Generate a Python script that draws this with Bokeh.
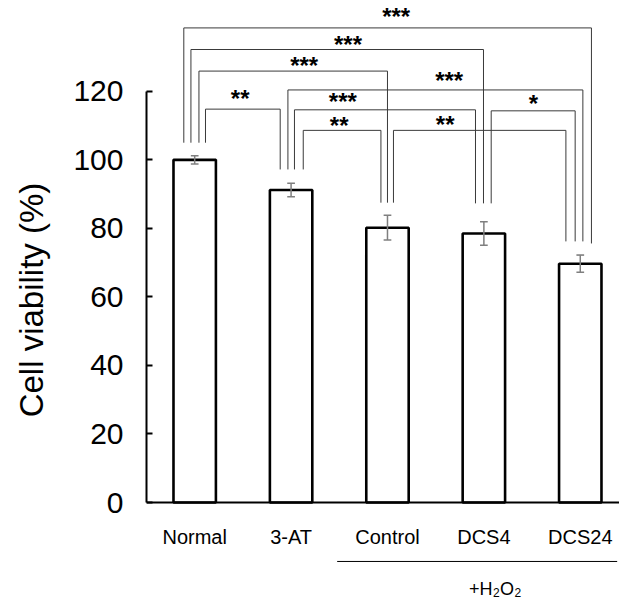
from bokeh.plotting import figure
from bokeh.models import Range1d, FixedTicker
from bokeh.core.properties import value
from bokeh.embed import file_html
from bokeh.resources import INLINE

# ---------------- data ----------------
categories = ["Normal", "3-AT", "Control", "DCS4", "DCS24"]
viability = [100.0, 91.2, 80.2, 78.5, 69.7]
error = [1.2, 2.0, 3.6, 3.4, 2.5]
y_ticks = [0, 20, 40, 60, 80, 100, 120]

# significance brackets (x in category units, y in % units)
bracket_labels = ["***", "***", "***", "**", "***", "***", "**", "**", "*"]
bracket_x_left = [0.387, 0.461, 0.544, 0.612, 1.467, 1.535, 1.626, 2.562, 3.576]
bracket_x_right = [4.616, 3.496, 2.500, 1.387, 4.527, 3.413, 2.432, 4.351, 4.447]
bracket_top = [138.5, 132.2, 125.9, 114.8, 120.4, 114.6, 108.6, 108.6, 114.3]
bracket_left_bottom = [105.0, 105.0, 105.0, 105.0, 97.2, 97.2, 97.2, 87.5, 87.3]
bracket_right_bottom = [75.6, 87.3, 87.5, 97.2, 76.2, 87.3, 87.5, 76.2, 76.2]
star_x = [2.59, 2.09, 1.636, 0.972, 3.14, 2.037, 1.999, 3.098, 4.014]
star_y = [141.7, 133.7, 127.6, 117.9, 123.1, 116.9, 110.1, 110.4, 116.4]

# treatment group (+H2O2) under Control, DCS4, DCS24
group_span = [1.978, 4.883]
group_line_y = -17.2
group_text_x = 3.345
group_text_y = -25.1
group_sub_y = -26.4

FONT = value("Liberation Sans")

xc = [i + 0.5 for i in range(len(categories))]

p = figure(width=619, height=599,
           x_range=Range1d(0, 4.907), y_range=Range1d(-28.3, 146.5),
           output_backend="svg", toolbar_location=None,
           min_border_left=146, min_border_right=0,
           min_border_top=0, min_border_bottom=0)
p.xgrid.visible = False
p.ygrid.visible = False
p.outline_line_color = None
p.background_fill_color = "white"
p.border_fill_color = "white"

# y axis
ya = p.yaxis[0]
ya.bounds = (0, 120)
ya.ticker = FixedTicker(ticks=y_ticks)
ya.axis_line_width = 2
ya.axis_line_color = "black"
ya.major_tick_line_width = 2
ya.major_tick_line_color = "black"
ya.major_tick_in = 6
ya.major_tick_out = 0
ya.minor_tick_line_color = None
ya.major_label_text_font = "Liberation Sans"
ya.major_label_text_font_size = "30px"
ya.major_label_text_color = "black"
ya.major_label_standoff = 23
ya.axis_label = "Cell viability (%)"
ya.axis_label_text_font = "Liberation Sans"
ya.axis_label_text_font_size = "33px"
ya.axis_label_text_font_style = "normal"
ya.axis_label_text_color = "black"
ya.axis_label_standoff = 20

# x axis at y = 0
xa = p.xaxis[0]
xa.fixed_location = 0
xa.ticker = FixedTicker(ticks=xc)
xa.major_label_overrides = {t: c for t, c in zip(xc, categories)}
xa.axis_line_width = 2
xa.axis_line_color = "black"
xa.major_tick_line_color = None
xa.minor_tick_line_color = None
xa.major_tick_in = 0
xa.major_tick_out = 0
xa.major_label_text_font = "Liberation Sans"
xa.major_label_text_font_size = "20px"
xa.major_label_text_color = "black"
xa.major_label_standoff = 23

# bars
p.vbar(x=xc, top=viability, bottom=0, width=0.44,
       fill_color="white", line_color="black", line_width=2.6)

# error bars
lo = [v - e for v, e in zip(viability, error)]
hi = [v + e for v, e in zip(viability, error)]
p.segment(x0=xc, y0=lo, x1=xc, y1=hi, line_color="#7f7f7f", line_width=1.5)
p.segment(x0=[x - 0.04 for x in xc], y0=lo, x1=[x + 0.04 for x in xc], y1=lo,
          line_color="#7f7f7f", line_width=1.5)
p.segment(x0=[x - 0.04 for x in xc], y0=hi, x1=[x + 0.04 for x in xc], y1=hi,
          line_color="#7f7f7f", line_width=1.5)

# significance brackets
xs = [[a, a, b, b] for a, b in zip(bracket_x_left, bracket_x_right)]
ys = [[lb, t, t, rb] for lb, t, rb in zip(bracket_left_bottom, bracket_top, bracket_right_bottom)]
p.multi_line(xs=xs, ys=ys, line_color="#3a3a3a", line_width=1)
p.text(x=star_x, y=star_y, text=bracket_labels, text_font=FONT,
       text_font_size=value("24px"), text_font_style="bold", text_align="center",
       text_baseline="alphabetic", text_color="black")

# +H2O2 group marker
p.line(x=group_span, y=[group_line_y, group_line_y], line_color="black", line_width=1)
p.text(x=[group_text_x], y=[group_text_y], text=["+H"], text_font=FONT,
       text_font_size=value("18px"), text_align="left", text_baseline="middle",
       text_color="black")
p.text(x=[group_text_x], y=[group_sub_y], text=["2"], x_offset=24,
       text_font=FONT, text_font_size=value("12px"), text_align="left",
       text_baseline="middle", text_color="black")
p.text(x=[group_text_x], y=[group_text_y], text=["O"], x_offset=31, text_font=FONT,
       text_font_size=value("18px"), text_align="left", text_baseline="middle",
       text_color="black")
p.text(x=[group_text_x], y=[group_sub_y], text=["2"], x_offset=45.5,
       text_font=FONT, text_font_size=value("12px"), text_align="left",
       text_baseline="middle", text_color="black")

open("out.html", "w").write(file_html(p, INLINE))
